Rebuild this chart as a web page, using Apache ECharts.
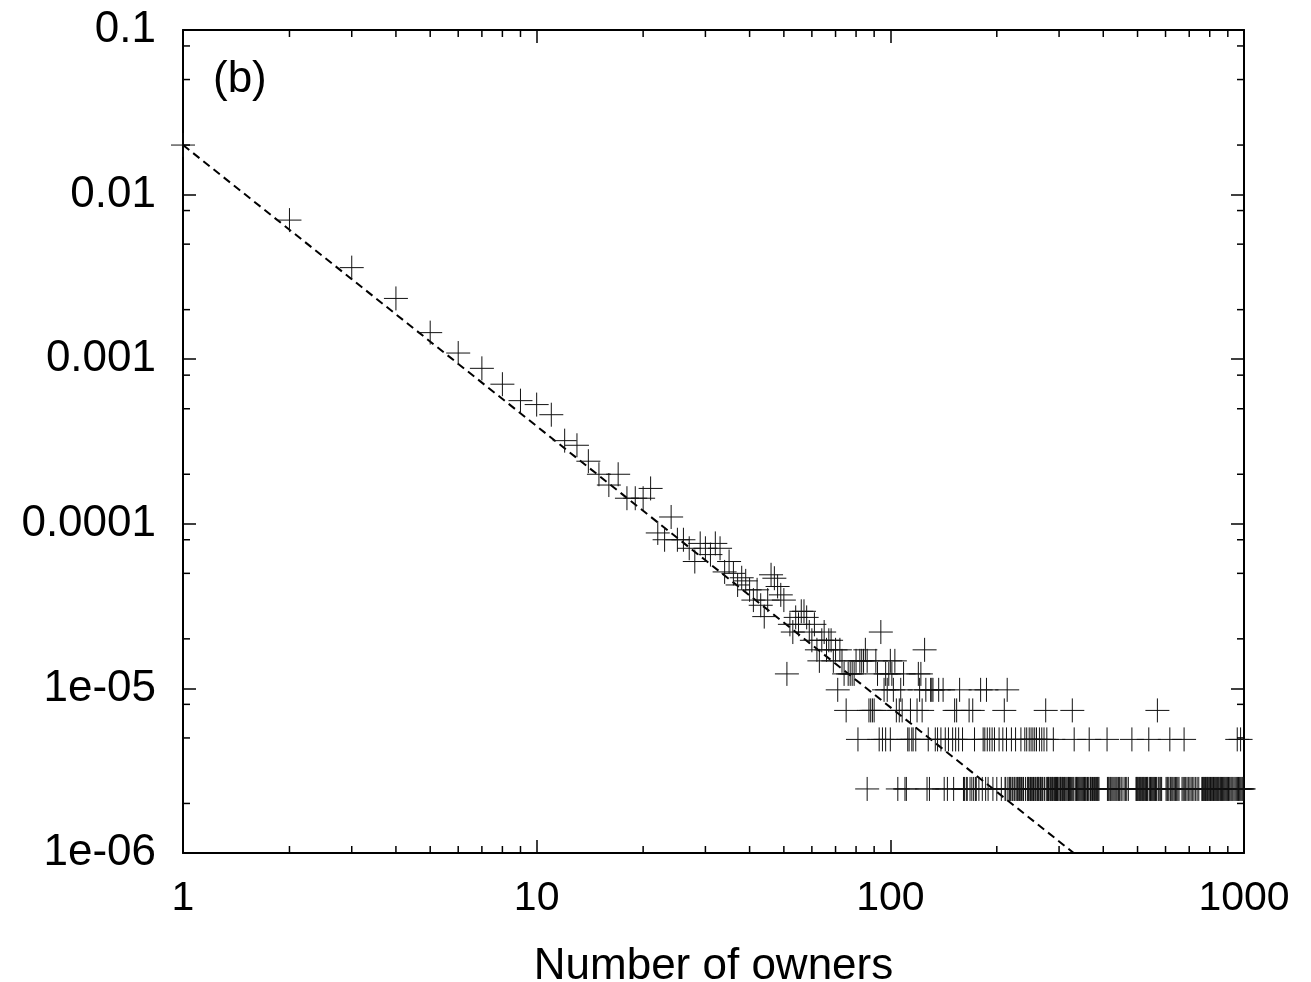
<!DOCTYPE html>
<html>
<head>
<meta charset="utf-8">
<script src="https://cdn.jsdelivr.net/npm/echarts@6/dist/echarts.min.js"></script>
<style>
  html, body { margin: 0; padding: 0; background: #fff; }
  #chart { width: 1311px; height: 982px; }
</style>
</head>
<body>
<div id="chart"></div>
<script>
// Axis ticks
const xTickLabels = ['1', '10', '100', '1000'];
const yTickLabels = ['1e-06', '1e-05', '0.0001', '0.001', '0.01', '0.1'];
const xMinorTicks = [2, 3, 4, 5, 6, 7, 8, 9, 20, 30, 40, 50, 60, 70, 80, 90, 200, 300, 400, 500, 600, 700, 800, 900];
const yMinorTicks = [2e-6, 5e-6, 8e-6, 2e-5, 5e-5, 8e-5, 2e-4, 5e-4, 8e-4, 2e-3, 5e-3, 8e-3, 2e-2, 5e-2, 8e-2];

// Small owner counts: one point each
const headOwners = [1, 2, 3, 4, 5, 6, 7, 8, 9, 10, 11, 12, 13, 14, 15, 16, 17, 18, 19, 20,
  21, 22, 23, 24, 25, 26, 27, 28, 29, 30, 31, 32, 33, 34, 35, 36, 37, 38, 39, 40,
  41, 42, 43, 44, 45, 46, 47, 48, 49, 50];
const headShare = [2.0e-2, 7.0e-3, 3.6e-3, 2.34e-3, 1.45e-3, 1.09e-3, 8.8e-4, 7.05e-4, 5.6e-4, 5.3e-4,
  4.6e-4, 3.2e-4, 3.0e-4, 2.4e-4, 2.0e-4, 1.72e-4, 2.0e-4, 1.43e-4, 1.43e-4, 1.43e-4,
  1.64e-4, 8.8e-5, 8.0e-5, 1.1e-4, 8.0e-5, 8.0e-5, 7.1e-5, 5.9e-5, 7.6e-5, 7.1e-5,
  6.5e-5, 7.6e-5, 7.1e-5, 5.1e-5, 5.9e-5, 5.0e-5, 4.25e-5, 4.7e-5, 4.5e-5, 3.97e-5,
  3.44e-5, 3.97e-5, 3.2e-5, 2.73e-5, 3.44e-5, 4.9e-5, 4.67e-5, 4.16e-5, 3.7e-5, 3.44e-5];

// Larger owner counts fall on discrete levels (1, 2, 3 ... items)
const levelShare = [2.45e-6, 4.9e-6, 7.35e-6, 9.8e-6, 1.225e-5, 1.47e-5, 1.715e-5, 1.96e-5, 2.2e-5, 2.45e-5, 2.7e-5, 2.94e-5];
const ownersLevel1 = [86, 105, 110, 111, 127, 129, 142, 145, 151, 161, 162, 164, 165, 168, 170, 172, 174, 175, 178, 182,
  186, 189, 195, 200, 206, 211, 212, 215, 217, 218, 219, 221, 222, 224, 225, 227, 229, 230, 232, 233,
  235, 237, 238, 241, 244, 245, 246, 248, 249, 251, 252, 254, 255, 257, 258, 260, 261, 262, 263, 265,
  266, 267, 269, 270, 273, 276, 278, 279, 280, 281, 283, 284, 286, 287, 288, 290, 291, 293, 294, 295,
  297, 298, 300, 302, 303, 304, 306, 307, 309, 311, 312, 314, 316, 318, 319, 321, 323, 325, 328, 329,
  333, 335, 336, 338, 340, 342, 344, 346, 348, 350, 352, 354, 356, 358, 361, 363, 367, 368, 370, 373,
  375, 378, 380, 383, 385, 387, 389, 411, 413, 415, 418, 420, 423, 426, 429, 432, 435, 438, 442, 445,
  449, 452, 458, 462, 466, 471, 495, 497, 499, 501, 504, 506, 509, 511, 514, 516, 519, 521, 524, 527,
  530, 533, 535, 541, 544, 547, 550, 553, 556, 559, 562, 566, 572, 575, 579, 582, 585, 602, 606, 609,
  613, 619, 622, 626, 630, 635, 640, 645, 650, 655, 668, 673, 678, 684, 690, 696, 703, 709, 716, 722,
  730, 737, 745, 760, 763, 767, 770, 774, 778, 781, 785, 788, 792, 796, 800, 804, 808, 812, 816, 820,
  824, 828, 832, 837, 841, 846, 850, 855, 859, 864, 869, 874, 879, 884, 889, 894, 899, 904, 911, 918,
  924, 930, 937, 944, 951, 958, 965, 972, 979, 986, 992, 998];
const ownersLevel2 = [81, 93, 95, 97, 100, 112, 113, 115, 116, 118, 128, 134, 136, 139, 143, 146, 150, 153, 156, 160,
  173, 183, 185, 188, 191, 194, 197, 203, 208, 213, 220, 226, 234, 240, 243, 247, 250, 253, 256, 259,
  264, 268, 272, 277, 289, 331, 365, 410, 482, 538, 617, 677, 957, 978];
const ownersLevel3 = [75, 87, 88, 89, 90, 104, 106, 108, 114, 119, 123, 152, 154, 167, 171, 210, 275, 327, 569];
const ownersLevel4 = [71, 96, 98, 102, 107, 121, 126, 130, 131, 132, 137, 141, 157, 180, 187, 214];
const ownersLevel5 = [51, 74, 76, 77, 78, 79, 92, 97, 99, 101, 109, 120, 122];
const ownersLevel6 = [63, 69, 73, 80, 82, 83, 84, 86, 91, 100, 103];
const ownersLevel7 = [62, 66, 70, 72, 85, 125];
const ownersLevel8 = [60, 64, 67, 68];
const ownersLevel9 = [53, 59, 65, 94];
const ownersLevel10 = [52, 55, 61];
const ownersLevel11 = [54, 58];
const ownersLevel12 = [56, 57];

// Power-law fit, drawn between its two end points
const fitOwners = [1, 330];
const fitShare = [0.02, 1e-6];

const X_MIN = 1, X_MAX = 1000, Y_MIN = 1e-6, Y_MAX = 0.1;
const MINOR_LEN = 7;
const FONT = '"Liberation Sans", Arial, Helvetica, sans-serif';

const levelRows = [ownersLevel1, ownersLevel2, ownersLevel3, ownersLevel4, ownersLevel5, ownersLevel6,
  ownersLevel7, ownersLevel8, ownersLevel9, ownersLevel10, ownersLevel11, ownersLevel12];

const points = headOwners.map((k, i) => [k, headShare[i]]);
levelRows.forEach((row, li) => row.forEach(k => points.push([k, levelShare[li]])));

const fitData = fitOwners.map((k, i) => [k, fitShare[i]]);

function xLabel(v) {
  const i = Math.round(Math.log10(v));
  return xTickLabels[i] !== undefined ? xTickLabels[i] : '';
}
function yLabel(v) {
  const i = Math.round(Math.log10(v)) + 6;
  return yTickLabels[i] !== undefined ? yTickLabels[i] : '';
}

const tickStyle = { stroke: '#000', lineWidth: 1.5 };

function renderMinorX(params, api) {
  const v = api.value(0);
  const b = api.coord([v, Y_MIN]);
  const t = api.coord([v, Y_MAX]);
  return {
    type: 'group',
    children: [
      { type: 'line', shape: { x1: b[0], y1: b[1], x2: b[0], y2: b[1] - MINOR_LEN }, style: tickStyle },
      { type: 'line', shape: { x1: t[0], y1: t[1], x2: t[0], y2: t[1] + MINOR_LEN }, style: tickStyle }
    ]
  };
}
function renderMinorY(params, api) {
  const v = api.value(1);
  const l = api.coord([X_MIN, v]);
  const r = api.coord([X_MAX, v]);
  return {
    type: 'group',
    children: [
      { type: 'line', shape: { x1: l[0], y1: l[1], x2: l[0] + MINOR_LEN, y2: l[1] }, style: tickStyle },
      { type: 'line', shape: { x1: r[0], y1: r[1], x2: r[0] - MINOR_LEN, y2: r[1] }, style: tickStyle }
    ]
  };
}

const axisLine = { show: true, lineStyle: { color: '#000', width: 2 } };
const majorTick = { show: true, inside: true, length: 13, lineStyle: { color: '#000', width: 1.5 } };

const chart = echarts.init(document.getElementById('chart'), null, { renderer: 'canvas' });
chart.setOption({
  animation: false,
  backgroundColor: '#fff',
  title: {
    text: '(b)',
    left: 208,
    top: 53,
    textStyle: { fontFamily: FONT, fontSize: 44, fontWeight: 'normal', color: '#000' }
  },
  grid: { left: 183, top: 30, right: 67, bottom: 129, containLabel: false, outerBoundsMode: 'none' },
  xAxis: [
    {
      type: 'log', logBase: 10, min: X_MIN, max: X_MAX, position: 'bottom',
      axisLine: axisLine, axisTick: majorTick, splitLine: { show: false },
      axisLabel: { formatter: xLabel, fontFamily: FONT, fontSize: 41, color: '#000', margin: 25 },
      name: 'Number of owners', nameLocation: 'middle', nameGap: 92,
      nameTextStyle: { fontFamily: FONT, fontSize: 44, color: '#000' }
    },
    {
      type: 'log', logBase: 10, min: X_MIN, max: X_MAX, position: 'top',
      axisLine: axisLine, axisTick: majorTick, splitLine: { show: false },
      axisLabel: { show: false }
    }
  ],
  yAxis: [
    {
      type: 'log', logBase: 10, min: Y_MIN, max: Y_MAX, position: 'left',
      axisLine: axisLine, axisTick: majorTick, splitLine: { show: false },
      axisLabel: { formatter: yLabel, fontFamily: FONT, fontSize: 44, color: '#000', margin: 27 }
    },
    {
      type: 'log', logBase: 10, min: Y_MIN, max: Y_MAX, position: 'right',
      axisLine: axisLine, axisTick: majorTick, splitLine: { show: false },
      axisLabel: { show: false }
    }
  ],
  series: [
    {
      name: 'minor-x', type: 'custom', xAxisIndex: 0, yAxisIndex: 0, silent: true, clip: false,
      data: xMinorTicks.map(v => [v, Y_MIN]), renderItem: renderMinorX, z: 5
    },
    {
      name: 'minor-y', type: 'custom', xAxisIndex: 0, yAxisIndex: 0, silent: true, clip: false,
      data: yMinorTicks.map(v => [X_MIN, v]), renderItem: renderMinorY, z: 5
    },
    {
      name: 'fit', type: 'line', data: fitData, symbol: 'none', silent: true,
      lineStyle: { color: '#000', width: 2, type: [8, 5] }, z: 3
    },
    {
      name: 'owners', type: 'scatter', data: points, silent: true, clip: false,
      symbol: 'path://M0 12 L24 12 M12 0 L12 24', symbolSize: 24,
      itemStyle: { color: 'rgba(0,0,0,0)', borderColor: '#111', borderWidth: 1, opacity: 1 },
      z: 4
    }
  ]
});
</script>
</body>
</html>
